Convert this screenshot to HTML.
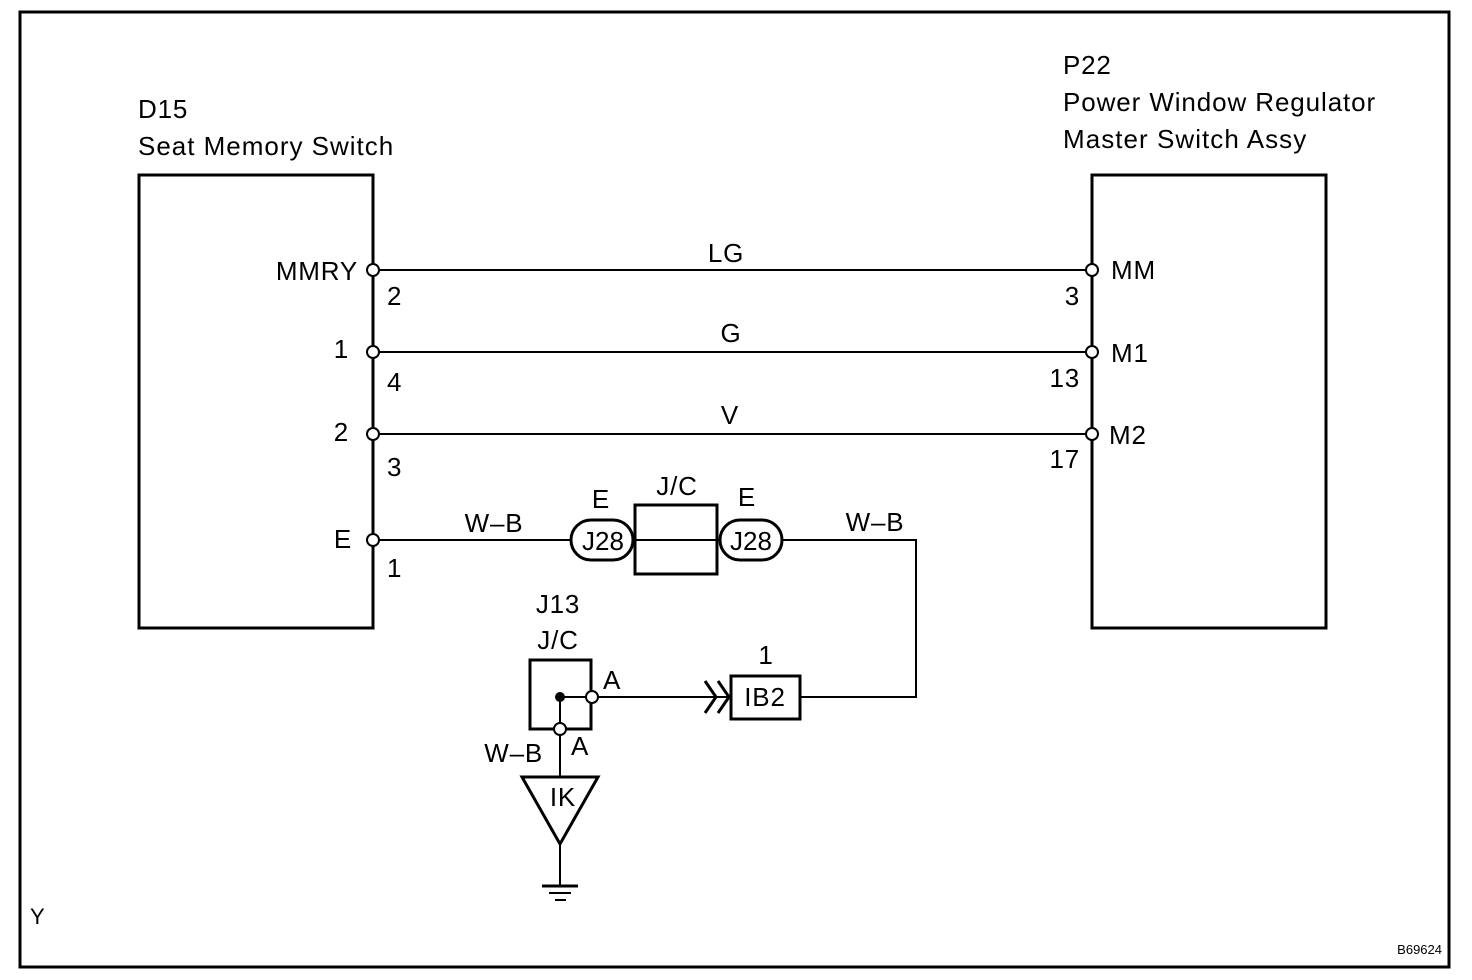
<!DOCTYPE html>
<html><head><meta charset="utf-8"><style>
html,body{margin:0;padding:0;background:#fff}
svg{display:block}
text{font-family:"Liberation Sans",Arial,sans-serif;font-size:26px;letter-spacing:0.8px;fill:#000}
</style></head><body>
<svg width="1472" height="980" viewBox="0 0 1472 980" xmlns="http://www.w3.org/2000/svg">
<rect x="20" y="12" width="1429" height="955" fill="none" stroke="#000" stroke-width="3"/>
<rect x="139" y="175" width="234" height="453" fill="none" stroke="#000" stroke-width="3"/>
<rect x="1092" y="175" width="234" height="453" fill="none" stroke="#000" stroke-width="3"/>
<text x="138" y="118">D15</text>
<text x="138" y="155" textLength="256">Seat Memory Switch</text>
<text x="1063" y="74">P22</text>
<text x="1063" y="111" textLength="313">Power Window Regulator</text>
<text x="1063" y="148" textLength="244">Master Switch Assy</text>
<g stroke="#000" stroke-width="2" fill="none">
<line x1="373" y1="270" x2="1092" y2="270"/>
<line x1="373" y1="352" x2="1092" y2="352"/>
<line x1="373" y1="434" x2="1092" y2="434"/>
<line x1="373" y1="540" x2="571" y2="540"/>
<line x1="633" y1="540" x2="719" y2="540"/>
<polyline points="782,540 916,540 916,697 800,697"/>
<line x1="592" y1="697" x2="727" y2="697"/>
<line x1="560" y1="697" x2="592" y2="697"/>
<line x1="560" y1="697" x2="560" y2="777"/>
<line x1="560" y1="845" x2="560" y2="886"/>
</g>
<g fill="#fff" stroke="#000" stroke-width="2">
<circle cx="373" cy="270" r="6"/><circle cx="373" cy="352" r="6"/><circle cx="373" cy="434" r="6"/><circle cx="373" cy="540" r="6"/>
<circle cx="1092" cy="270" r="6"/><circle cx="1092" cy="352" r="6"/><circle cx="1092" cy="434" r="6"/>
</g>
<text x="358" y="280" text-anchor="end">MMRY</text>
<text x="387" y="305">2</text>
<text x="349" y="358" text-anchor="end">1</text>
<text x="387" y="391">4</text>
<text x="349" y="441" text-anchor="end">2</text>
<text x="387" y="476">3</text>
<text x="352" y="548" text-anchor="end">E</text>
<text x="387" y="577">1</text>
<text x="1111" y="279">MM</text>
<text x="1080" y="305" text-anchor="end">3</text>
<text x="1111" y="362">M1</text>
<text x="1080" y="387" text-anchor="end">13</text>
<text x="1109" y="444">M2</text>
<text x="1080" y="468" text-anchor="end">17</text>
<text x="726" y="262" text-anchor="middle">LG</text>
<text x="731" y="342" text-anchor="middle">G</text>
<text x="730" y="424" text-anchor="middle">V</text>
<text x="494" y="532" text-anchor="middle">W–B</text>
<text x="875" y="531" text-anchor="middle">W–B</text>
<rect x="635" y="505" width="82" height="69" fill="none" stroke="#000" stroke-width="3"/>
<line x1="635" y1="540" x2="717" y2="540" stroke="#000" stroke-width="2"/>
<rect x="571" y="520" width="62" height="40" rx="20" fill="#fff" stroke="#000" stroke-width="3"/>
<rect x="720" y="520" width="62" height="40" rx="20" fill="#fff" stroke="#000" stroke-width="3"/>
<text x="603" y="550" text-anchor="middle" style="letter-spacing:0">J28</text>
<text x="751" y="550" text-anchor="middle" style="letter-spacing:0">J28</text>
<text x="601" y="508" text-anchor="middle">E</text>
<text x="747" y="506" text-anchor="middle">E</text>
<text x="677" y="495" text-anchor="middle">J/C</text>
<text x="558" y="613" text-anchor="middle">J13</text>
<text x="558" y="649" text-anchor="middle">J/C</text>
<rect x="530" y="660" width="61" height="69" fill="none" stroke="#000" stroke-width="3"/>
<circle cx="560" cy="697" r="5" fill="#000"/>
<circle cx="592" cy="697" r="6" fill="#fff" stroke="#000" stroke-width="2"/>
<circle cx="560" cy="729" r="6" fill="#fff" stroke="#000" stroke-width="2"/>
<text x="603" y="689">A</text>
<text x="571" y="755">A</text>
<text x="543" y="762" text-anchor="end">W–B</text>
<polyline points="705,681 716,697 705,713" fill="none" stroke="#000" stroke-width="3"/>
<polyline points="718,681 729,697 718,713" fill="none" stroke="#000" stroke-width="3"/>
<rect x="731" y="676" width="69" height="43" fill="#fff" stroke="#000" stroke-width="3"/>
<text x="765" y="706" text-anchor="middle">IB2</text>
<text x="766" y="664" text-anchor="middle">1</text>
<polygon points="522,777 598,777 560,844" fill="#fff" stroke="#000" stroke-width="3"/>
<text x="563" y="806" text-anchor="middle">IK</text>
<line x1="542" y1="886" x2="578" y2="886" stroke="#000" stroke-width="3"/>
<line x1="549" y1="893" x2="571" y2="893" stroke="#000" stroke-width="2"/>
<line x1="555" y1="900" x2="566" y2="900" stroke="#000" stroke-width="2"/>
<text x="30" y="924" style="font-size:22px">Y</text>
<text x="1442" y="954" text-anchor="end" style="font-size:13px;letter-spacing:0">B69624</text>
</svg>
</body></html>
